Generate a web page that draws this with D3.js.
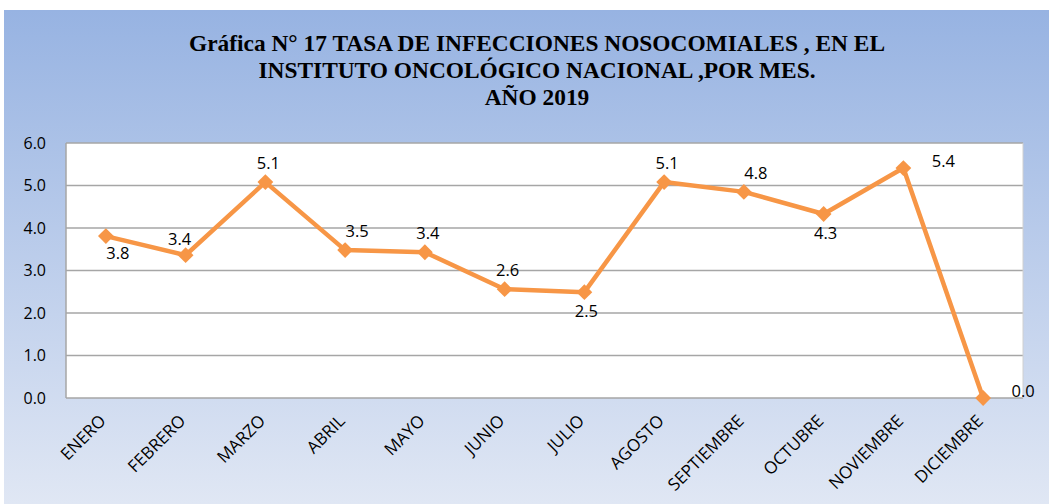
<!DOCTYPE html>
<html><head><meta charset="utf-8">
<script src="https://cdn.jsdelivr.net/npm/d3@7"></script>
<style>html,body{margin:0;padding:0;background:#fff;}</style>
</head><body>
<svg id="c" width="1049" height="504"></svg>
<script>
const months = ["ENERO","FEBRERO","MARZO","ABRIL","MAYO","JUNIO","JULIO","AGOSTO","SEPTIEMBRE","OCTUBRE","NOVIEMBRE","DICIEMBRE"];
const rates = [3.8, 3.4, 5.1, 3.5, 3.4, 2.6, 2.5, 5.1, 4.8, 4.3, 5.4, 0.0];
const ratesExact = [3.81, 3.36, 5.08, 3.48, 3.43, 2.56, 2.49, 5.08, 4.85, 4.33, 5.41, 0.0];
const labelPlacement = ["belowRight","aboveLeft","above","aboveRight","above","above","below","above","aboveRight","below","right","right"];
const yTicks = [0,1,2,3,4,5,6];
const titleLines = ["Gráfica N° 17 TASA DE INFECCIONES NOSOCOMIALES , EN EL","INSTITUTO ONCOLÓGICO NACIONAL ,POR MES.","AÑO 2019"];

const svg = d3.select("#c");
const defs = svg.append("defs");
const g = defs.append("linearGradient").attr("id","bg").attr("x1",0).attr("y1",0).attr("x2",0).attr("y2",1);
g.append("stop").attr("offset","0%").attr("stop-color","#97b3e2");
g.append("stop").attr("offset","100%").attr("stop-color","#e0e7f4");
svg.append("rect").attr("x",4).attr("y",10).attr("width",1045).attr("height",494).attr("fill","url(#bg)");

const m = {l:66, r:1023, t:143, b:398};
const x = d3.scaleBand().domain(months).range([m.l, m.r]);
const y = d3.scaleLinear().domain([0,6]).range([m.b, m.t]);

svg.append("rect").attr("x",m.l).attr("y",m.t).attr("width",m.r-m.l).attr("height",m.b-m.t).attr("fill","#fff");

svg.append("g").selectAll("line").data(yTicks).join("line")
  .attr("x1",m.l).attr("x2",m.r).attr("y1",d=>y(d)).attr("y2",d=>y(d))
  .attr("stroke","#a6a6a6").attr("stroke-width",1.5);
svg.append("line").attr("x1",m.l).attr("x2",m.l).attr("y1",m.t).attr("y2",m.b).attr("stroke","#a6a6a6").attr("stroke-width",1.5);
svg.append("line").attr("x1",m.r).attr("x2",m.r).attr("y1",m.t).attr("y2",m.b).attr("stroke","#d0d0d0").attr("stroke-width",1);

const font = "'Open Sans', 'Noto Sans', sans-serif";
svg.append("g").selectAll("text").data(yTicks).join("text")
  .attr("x",46).attr("y",d=>y(d)).attr("dy","0.35em").attr("text-anchor","end")
  .attr("font-family",font).attr("font-size",16).attr("fill","#000")
  .text(d=>d3.format(".1f")(d));

svg.append("g").selectAll("text").data(months).join("text")
  .attr("transform",d=>`translate(${x(d)+x.bandwidth()/2+1},${422}) rotate(-45)`)
  .attr("text-anchor","end").attr("font-family",font).attr("font-size",17).attr("fill","#000")
  .text(d=>d);

const cx = (d,i)=>x(months[i])+x.bandwidth()/2;
const line = d3.line().x((d,i)=>cx(d,i)).y(d=>y(d));
svg.append("path").datum(ratesExact).attr("d",line).attr("fill","none")
  .attr("stroke","#f79646").attr("stroke-width",4.5).attr("stroke-linejoin","round");
svg.append("g").selectAll("path").data(ratesExact).join("path")
  .attr("d",d3.symbol().type(d3.symbolSquare).size(125))
  .attr("transform",(d,i)=>`translate(${cx(d,i)},${y(d)}) rotate(45)`)
  .attr("fill","#f79646");

const off = {above:[3,-19], below:[2,19], aboveRight:[12,-19], aboveLeft:[-6,-16], belowRight:[12,17], right:[40,-7]};
svg.append("g").selectAll("text").data(rates).join("text")
  .attr("x",(d,i)=>cx(d,i)+off[labelPlacement[i]][0])
  .attr("y",(d,i)=>y(ratesExact[i])+off[labelPlacement[i]][1])
  .attr("dy","0.35em").attr("text-anchor","middle")
  .attr("font-family",font).attr("font-size",16.5).attr("fill","#000")
  .text(d=>d3.format(".1f")(d));

svg.append("g").selectAll("text").data(titleLines).join("text")
  .attr("x",537).attr("y",(d,i)=>51+i*27).attr("text-anchor","middle")
  .attr("font-family","'Liberation Serif','Times New Roman',serif").attr("font-weight","bold")
  .attr("font-size",23.4).attr("fill","#000").text(d=>d);
</script>
</body></html>
